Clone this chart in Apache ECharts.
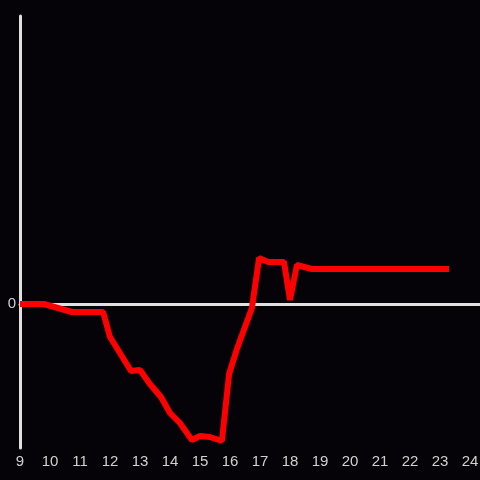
<!DOCTYPE html>
<html>
<head>
<meta charset="utf-8">
<title>Line chart</title>
<script src="https://cdn.jsdelivr.net/npm/echarts@6/dist/echarts.min.js"></script>
<style>
  html, body { margin: 0; padding: 0; background: #050307; }
  #chart { width: 480px; height: 480px; }
</style>
</head>
<body>
<div id="chart"></div>
<script>
// x positions (hour) and values
const xValues = [9, 9.8, 10.73, 11.77, 12.0, 12.27, 12.7, 13.0, 13.33, 13.7, 14.0, 14.33, 14.73,
  15.0, 15.33, 15.73, 15.97, 16.23, 16.73, 16.97, 17.27, 17.8, 18.0, 18.23, 18.73, 23.3]
const yValues = [0, 0, -8, -8, -33, -46, -67, -66, -80, -93, -109, -119, -136,
  -132, -133, -137, -70, -45, -4, 46, 42, 42, 4, 39, 35, 35]
const xRange = [9, 24.333]
const yRange = [-144, 288]

const points = xValues.map((x, i) => [x, yValues[i]])

const axisColor = '#e0e0e0'
const labelColor = '#d0d0d0'

const chart = echarts.init(document.getElementById('chart'))
chart.setOption({
  backgroundColor: '#050307',
  animation: false,
  grid: { left: 20, right: 0, top: 16, bottom: 32, outerBoundsMode: 'none', containLabel: false },
  xAxis: [
    {
      // line through zero
      type: 'value',
      min: xRange[0],
      max: xRange[1],
      interval: 1,
      axisLine: { show: true, onZero: true, lineStyle: { color: axisColor, width: 3 } },
      axisTick: { show: false },
      axisLabel: { show: false },
      splitLine: { show: false }
    },
    {
      // labels along the bottom
      type: 'value',
      position: 'bottom',
      min: xRange[0],
      max: xRange[1],
      interval: 1,
      axisLine: { show: false, onZero: false },
      axisTick: { show: false },
      axisLabel: {
        color: labelColor,
        fontSize: 15,
        fontFamily: 'Liberation Sans, Arial, sans-serif',
        margin: 6,
        formatter: v => (Number.isInteger(v) ? String(v) : '')
      },
      splitLine: { show: false }
    }
  ],
  yAxis: {
    type: 'value',
    min: yRange[0],
    max: yRange[1],
    interval: 144,
    axisLine: { show: true, lineStyle: { color: axisColor, width: 3 } },
    axisTick: { show: false },
    axisLabel: {
      color: labelColor,
      fontSize: 15,
      fontFamily: 'Liberation Sans, Arial, sans-serif',
      margin: 4,
      formatter: v => (v === 0 ? '0' : '')
    },
    splitLine: { show: false }
  },
  series: [
    {
      type: 'line',
      xAxisIndex: 0,
      data: points,
      showSymbol: false,
      symbol: 'none',
      lineStyle: { color: '#ff0000', width: 6, cap: 'butt', join: 'bevel' }
    }
  ]
})
</script>
</body>
</html>
